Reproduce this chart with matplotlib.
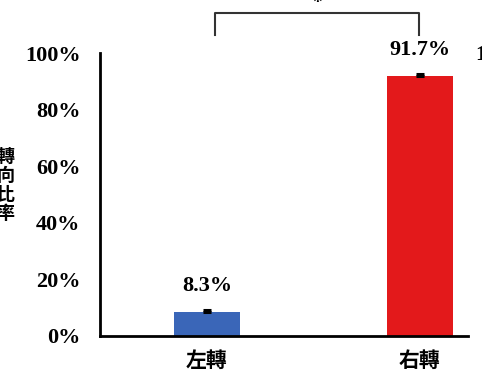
import matplotlib
matplotlib.use("Agg")
import matplotlib.pyplot as plt
from matplotlib.ticker import FuncFormatter

categories = ["左轉", "右轉"]
values = [8.3, 91.7]
errors = [0.8, 0.9]
bar_colors = ["#3a66b8", "#e3191b"]
yticks = [0, 20, 40, 60, 80, 100]

serif = ["Liberation Serif", "DejaVu Serif"]
cjk = ["Noto Sans CJK TC", "DejaVu Sans"]

fig = plt.figure(figsize=(4.82, 3.77), dpi=100)
ax = fig.add_axes([0.2075, 0.1088, 0.7635, 0.7506])

x = [0, 1]
ax.bar(x, values, width=0.31, color=bar_colors, zorder=2)
ax.errorbar(x, values, yerr=[[0, 0], errors], fmt="none", ecolor="black",
            elinewidth=1.5, capsize=3.2, capthick=2.2, zorder=3)

for xi, v in zip(x, values):
    ax.text(xi, v + 6, f"{v}%", ha="center", va="bottom",
            fontsize=16, fontweight="bold", family=serif)

ax.set_xlim(-0.502, 1.226)
ax.set_ylim(0, 100)
ax.set_yticks(yticks)
ax.yaxis.set_major_formatter(FuncFormatter(lambda v, _: f"{int(v)}%"))
ax.set_xticks(x)
ax.set_xticklabels(categories, family=cjk, fontsize=15, fontweight="bold")
for lab in ax.get_yticklabels():
    lab.set_family(serif)
    lab.set_fontweight("bold")
    lab.set_fontsize(16)
ax.tick_params(axis="both", length=0)
ax.tick_params(axis="y", pad=14)
ax.tick_params(axis="x", pad=10)

for side in ("top", "right"):
    ax.spines[side].set_visible(False)
for side in ("left", "bottom"):
    ax.spines[side].set_linewidth(2)

# significance bracket
bx0, bx1, by_top, by_low = 0.04, 0.995, 114, 106.5
ax.plot([bx0, bx0, bx1, bx1], [by_low, by_top, by_top, by_low],
        color="#333333", lw=1.5, clip_on=False)
ax.text((bx0 + bx1) / 2, by_top + 0.5, "*", ha="center", va="bottom",
        fontsize=14, fontweight="bold", family=serif)

# y-axis label with stacked characters
fig.text(0.012, 0.51, "轉\n向\n比\n率", ha="center", va="center",
         family=cjk, fontsize=13, fontweight="bold", linespacing=1.0)

# neighbouring panel's axis label at the right edge
fig.text(0.985, 0.855, "100%", ha="left", va="center",
         fontsize=16, fontweight="bold", family=serif)

fig.savefig("out.png", dpi=100)
